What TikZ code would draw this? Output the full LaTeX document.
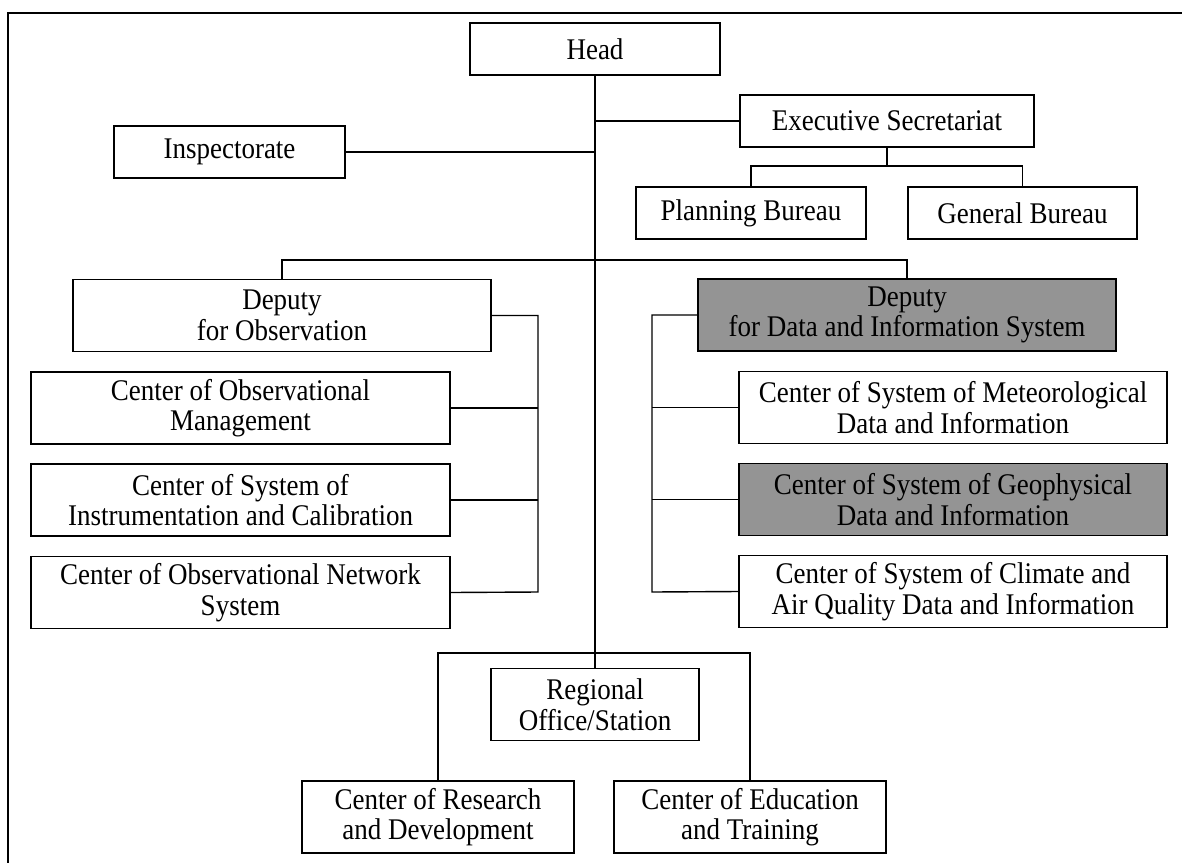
\documentclass[tikz,border=0pt]{standalone}
\usepackage{fontspec}
\setmainfont[FakeStretch=0.9]{Liberation Serif}
\usetikzlibrary{positioning,calc}

\begin{document}
\begin{tikzpicture}[x=1pt,y=-1pt,font=\fontsize{30}{30.5}\selectfont,line width=1.4pt]
\tikzstyle{b}=[draw,line width=1.6pt,fill=white,inner sep=0pt,align=center,minimum height=52pt]
\tikzstyle{g}=[b,fill=black!42]
\tikzstyle{two}=[minimum height=72pt]
\useasboundingbox (0,0) rectangle (1182,862);
\draw[line width=1.8pt] (8,900) -- (8,13) -- (1220,13);
% top level
\node[b,minimum width=250pt] (head) at (595,49) {Head};
\node[b,minimum width=231pt] (insp) at (229.5,152) {Inspectorate};
\node[b,minimum width=294pt] (exec) at (887,121) {Executive Secretariat};
\node[b,minimum width=230pt] (plan) at (751,213) {Planning Bureau};
\node[b,minimum width=229pt] (gen) at (1022.5,213) {General Bureau};
% deputies
\node[b,two,minimum width=418pt] (depobs) at (282,315.5) {Deputy\\for Observation};
\node[g,two,minimum width=418pt] (depdata) at (907,315) {Deputy\\for Data and Information System};
% centers under observation
\node[b,two,minimum width=419pt] (obsmgmt) at (240.5,408) {Center of Observational\\Management};
\node[b,two,minimum width=419pt] (instr) at (240.5,500) {Center of System of\\Instrumentation and Calibration};
\node[b,two,minimum width=419pt] (network) at (240.5,592.5) {Center of Observational Network\\System};
% centers under data and information
\node[b,two,minimum width=428pt] (meteo) at (953,407.5) {Center of System of Meteorological\\Data and Information};
\node[g,two,minimum width=428pt] (geo) at (953,499.5) {Center of System of Geophysical\\Data and Information};
\node[b,two,minimum width=428pt] (climate) at (953,591.5) {Center of System of Climate and\\Air Quality Data and Information};
% regional
\node[b,two,minimum width=208pt] (regional) at (595,704.5) {Regional\\Office/Station};
\node[b,two,minimum width=272pt] (research) at (438,817) {Center of Research\\and Development};
\node[b,two,minimum width=272pt] (edu) at (750,817) {Center of Education\\and Training};
% connectors
\coordinate (esbar) at (887,166);
\coordinate (bus) at (595,260);
\coordinate (lsp) at (538,592);
\coordinate (rsp) at (652,592);
\coordinate (rbar) at (595,653);
\draw (head.south) -- (regional.north);
\draw (insp.east) -- (insp.east -| head.south);
\draw (exec.west) -- (exec.west -| head.south);
\draw (exec.south) -- (esbar);
\draw (plan.north) |- (esbar) -| (gen.north);
\draw (depobs.north) |- (bus) -| (depdata.north);
\draw (depobs.east) -| (lsp) -- (network.east);
\draw (obsmgmt.east) -- (obsmgmt.east -| lsp);
\draw (instr.east) -- (instr.east -| lsp);
\draw (depdata.west) -| (rsp) -- (climate.west);
\draw (meteo.west) -- (meteo.west -| rsp);
\draw (geo.west) -- (geo.west -| rsp);
\draw (research.north) |- (rbar) -| (edu.north);
\end{tikzpicture}
\end{document}
